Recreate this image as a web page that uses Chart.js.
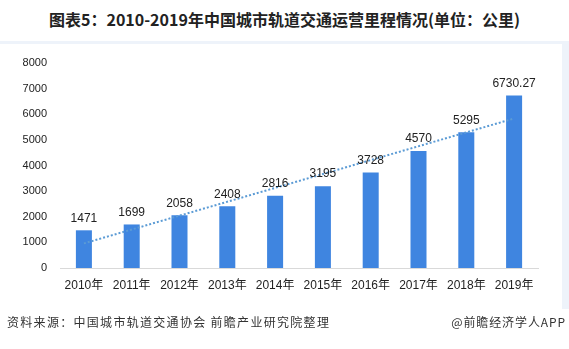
<!DOCTYPE html>
<html>
<head>
<meta charset="utf-8">
<script src="https://cdn.jsdelivr.net/npm/chart.js@4"></script>
<style>
  body { margin: 0; background: #fff; width: 569px; height: 349px; overflow: hidden; position: relative;
         font-family: "Noto Sans CJK SC", "Liberation Sans", sans-serif; }
  #frame { position: absolute; left: 0; top: 41px; width: 562px; height: 265px;
           border-top: 3px solid #eef3fa; border-right: 7px solid #eef3fa; }
  #title { position: absolute; left: 0; top: 8px; width: 569px; text-align: center;
           font-size: 16px; font-weight: bold; color: #222; line-height: 22px; }
  #source { position: absolute; left: 7px; top: 313px; font-size: 12px; color: #333; letter-spacing: 1.3px; }
  #brand { position: absolute; right: 3px; top: 313px; font-size: 12px; color: #333; letter-spacing: 0.9px; }
  #wrap { position: absolute; left: 0; top: 0; width: 569px; height: 349px; }
</style>
</head>
<body>
<div id="frame"></div>
<div id="title">图表5：2010-2019年中国城市轨道交通运营里程情况(单位：公里)</div>
<div id="wrap"><canvas id="chart" width="569" height="349"></canvas></div>
<div id="source">资料来源：中国城市轨道交通协会 前瞻产业研究院整理</div>
<div id="brand">@前瞻经济学人APP</div>
<script>
const years = ["2010年","2011年","2012年","2013年","2014年","2015年","2016年","2017年","2018年","2019年"];
const mileage = [1471, 1699, 2058, 2408, 2816, 3195, 3728, 4570, 5295, 6730.27];
const mileageLabels = ["1471","1699","2058","2408","2816","3195","3728","4570","5295","6730.27"];
// dotted trend line, ends
const trend = [960, null, null, null, null, null, null, null, null, 5835];

const barColor = "#3f85e0";

const valueLabels = {
  id: "valueLabels",
  afterDatasetsDraw(chart) {
    const ctx = chart.ctx;
    const meta = chart.getDatasetMeta(0);
    ctx.save();
    ctx.font = '12px "Liberation Sans", "Noto Sans CJK SC", sans-serif';
    ctx.fillStyle = "#222";
    ctx.textAlign = "center";
    ctx.textBaseline = "bottom";
    meta.data.forEach((bar, i) => {
      ctx.fillText(mileageLabels[i], bar.x, bar.y - 6);
    });
    ctx.restore();
  }
};

new Chart(document.getElementById("chart"), {
  data: {
    labels: years,
    datasets: [
      {
        type: "bar",
        data: mileage,
        backgroundColor: barColor,
        barPercentage: 0.335,
        categoryPercentage: 1,
        order: 2
      },
      {
        type: "line",
        data: trend,
        spanGaps: true,
        borderColor: "#5b9bd5",
        borderWidth: 2,
        borderDash: [2, 2],
        pointRadius: 0,
        fill: false,
        order: 1
      }
    ]
  },
  options: {
    responsive: false,
    animation: false,
    layout: { padding: { left: 0, right: 31, top: 63, bottom: 0 } },
    plugins: { legend: { display: false }, tooltip: { enabled: false } },
    scales: {
      x: {
        grid: { display: false, drawTicks: false },
        border: { display: true, color: "#d9d9d9", width: 1 },
        ticks: { color: "#222", padding: 10, font: { size: 12, family: '"Liberation Sans", "Noto Sans CJK SC", sans-serif' } },
        afterFit(scale) { scale.height = 81; }
      },
      y: {
        min: 0,
        max: 8000,
        grid: { display: false, drawTicks: false },
        border: { display: false },
        ticks: {
          stepSize: 1000, color: "#222", padding: 13,
          font: { size: 11, family: '"Liberation Sans", sans-serif' },
          callback: v => String(v)
        },
        afterFit(scale) { scale.width = 60; }
      }
    }
  },
  plugins: [valueLabels]
});
</script>
</body>
</html>
